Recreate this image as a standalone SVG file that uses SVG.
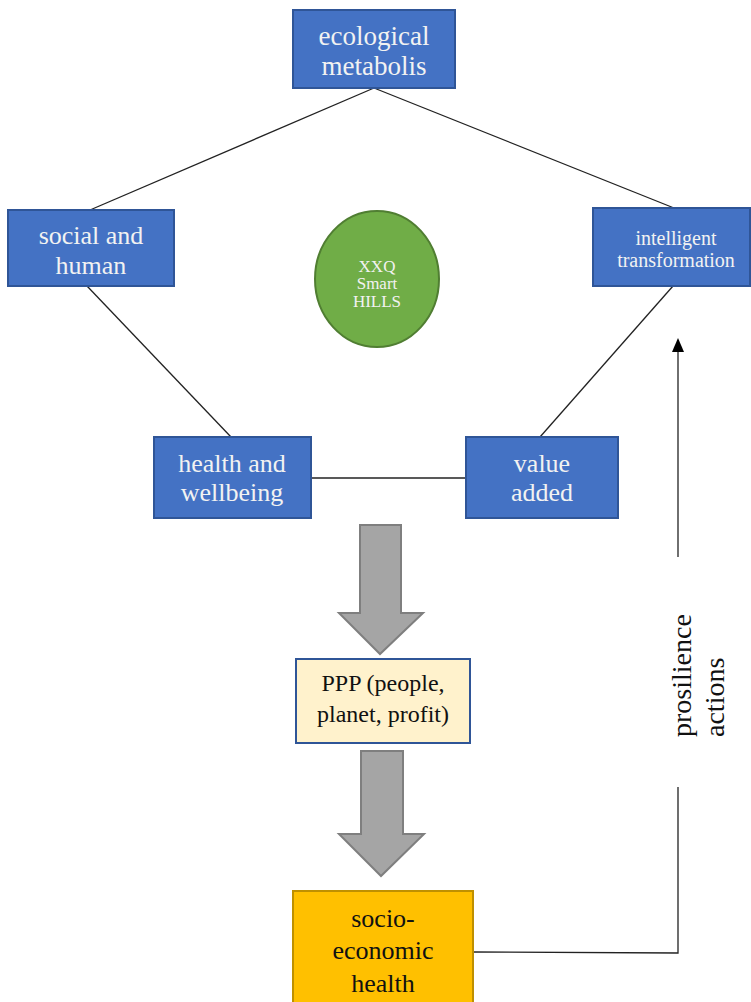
<svg xmlns="http://www.w3.org/2000/svg" width="751" height="1002" viewBox="0 0 751 1002" font-family="'Liberation Serif', 'Times New Roman', serif">
<style>
.blue{fill:#4472C4;stroke:#2F5597;stroke-width:2}
.wt{fill:#F2F2F2;text-anchor:middle}
.bt{fill:#111;text-anchor:middle}
.ln{stroke:#222;stroke-width:1.3;fill:none}
.garrow{fill:#A5A5A5;stroke:#7F7F7F;stroke-width:2}
</style>
<g id="connectors">
<line class="ln" x1="374" y1="88" x2="90" y2="210"/>
<line class="ln" x1="374" y1="88" x2="674" y2="208"/>
<line class="ln" x1="87" y1="286" x2="231" y2="437"/>
<line class="ln" x1="673" y1="286" x2="540" y2="437"/>
<line class="ln" x1="311" y1="478" x2="466" y2="478"/>
<polyline class="ln" points="473,952 678,953 678,787"/>
<line class="ln" x1="678" y1="557" x2="678" y2="345"/>
<path d="M672,352 L678,338 L684,352 Z" fill="#000"/>
<polygon class="garrow" points="360,525 401,525 401,613 423,613 380,654 339,613 360,613"/>
<polygon class="garrow" points="361,751 403,751 403,834 424,834 381,876 339,834 361,834"/>
</g>
<g id="ecological">
<rect class="blue" x="293" y="10" width="162" height="78"/>
<text class="wt" x="374" y="45" font-size="27">ecological</text>
<text class="wt" x="374" y="75" font-size="27">metabolis</text>
</g>
<g id="social">
<rect class="blue" x="8" y="210" width="166" height="76"/>
<text class="wt" x="91" y="244" font-size="26">social and</text>
<text class="wt" x="91" y="274" font-size="26">human</text>
</g>
<g id="intelligent">
<rect class="blue" x="593" y="208" width="157" height="78"/>
<text class="wt" x="676" y="245" font-size="20">intelligent</text>
<text class="wt" x="676" y="267" font-size="20">transformation</text>
</g>
<g id="smart-hills">
<ellipse cx="377" cy="279" rx="62" ry="68" fill="#70AD47" stroke="#507E32" stroke-width="2"/>
<text class="wt" x="377" y="272" font-size="17">XXQ</text>
<text class="wt" x="377" y="289" font-size="17">Smart</text>
<text class="wt" x="377" y="307" font-size="17">HILLS</text>
</g>
<g id="health">
<rect class="blue" x="154" y="437" width="157" height="81"/>
<text class="wt" x="232" y="472" font-size="26">health and</text>
<text class="wt" x="232" y="501" font-size="26">wellbeing</text>
</g>
<g id="value">
<rect class="blue" x="466" y="437" width="152" height="81"/>
<text class="wt" x="542" y="472" font-size="26">value</text>
<text class="wt" x="542" y="501" font-size="26">added</text>
</g>
<g id="ppp">
<rect x="296" y="659" width="174" height="84" fill="#FFF2CC" stroke="#2F5597" stroke-width="2"/>
<text class="bt" x="383" y="691" font-size="24">PPP (people,</text>
<text class="bt" x="383" y="722" font-size="24">planet, profit)</text>
</g>
<g id="socio">
<rect x="293" y="891" width="180" height="120" fill="#FFC000" stroke="#BF9000" stroke-width="2"/>
<text class="bt" x="383" y="927" font-size="26">socio-</text>
<text class="bt" x="383" y="959" font-size="26">economic</text>
<text class="bt" x="383" y="992" font-size="26">health</text>
</g>
<g id="label">
<text font-size="28" fill="#111" transform="translate(691,737) rotate(-90)">prosilience</text>
<text font-size="28" fill="#111" transform="translate(724,737) rotate(-90)">actions</text>
</g>
</svg>
